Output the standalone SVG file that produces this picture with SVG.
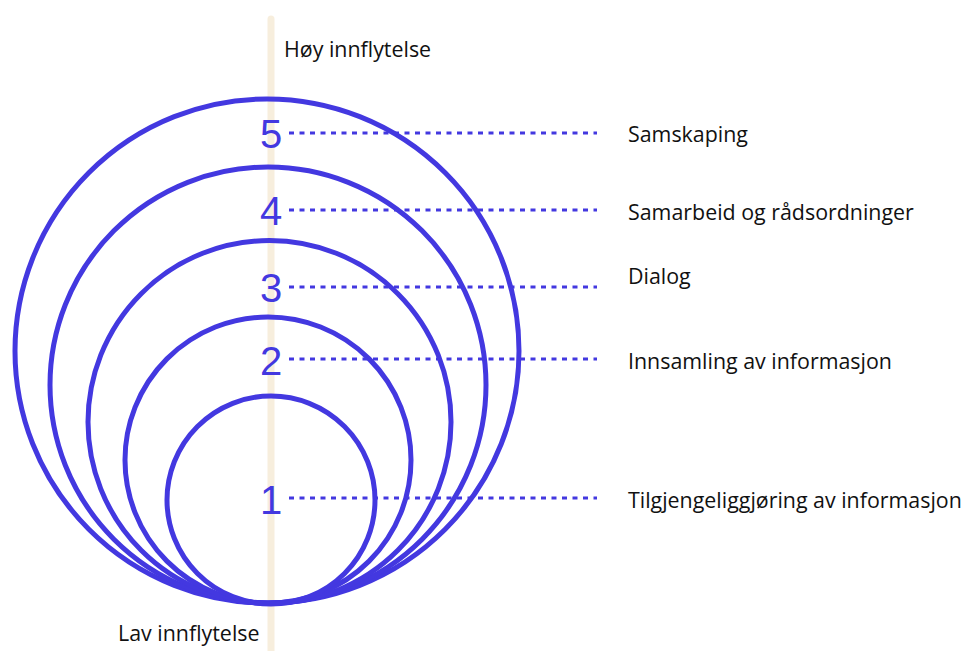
<svg xmlns="http://www.w3.org/2000/svg" width="962" height="651" viewBox="0 0 962 651">
<style>
.ring{fill:none;stroke:#4338E0;stroke-width:5}
.dash{stroke:#4338E0;stroke-width:3;stroke-dasharray:5 5.5;fill:none}
.num{font-family:"Liberation Sans",Arial,sans-serif;font-size:40px;fill:#4338E0;text-anchor:middle}
.lbl{font-family:"Open Sans","Noto Sans",sans-serif;font-size:21.4px;fill:#111}
</style>
<rect width="962" height="651" fill="#fff"/>
<line id="axis" x1="271" y1="19" x2="271" y2="660" stroke="#F7EEDD" stroke-width="7" stroke-linecap="round"/>
<text class="lbl" x="284" y="57">Høy innflytelse</text>
<text class="lbl" x="118" y="641">Lav innflytelse</text>
<g id="circles">
<circle id="c5" class="ring" cx="267" cy="351" r="252"/>
<circle id="c4" class="ring" cx="268" cy="385" r="218"/>
<circle id="c3" class="ring" cx="269.5" cy="422" r="181.5"/>
<circle id="c2" class="ring" cx="268" cy="460" r="143"/>
<circle id="c1" class="ring" cx="271" cy="500" r="104"/>
</g>
<g id="connectors">
<line class="dash" x1="289" y1="133" x2="597" y2="133"/>
<line class="dash" x1="289" y1="210" x2="597" y2="210"/>
<line class="dash" x1="289" y1="287" x2="597" y2="287"/>
<line class="dash" x1="289" y1="359" x2="597" y2="359"/>
<line class="dash" x1="289" y1="498" x2="597" y2="498"/>
</g>
<g id="level5"><text class="num" x="271" y="148">5</text><text class="lbl" x="628" y="142">Samskaping</text></g>
<g id="level4"><text class="num" x="271" y="225">4</text><text class="lbl" x="628" y="220">Samarbeid og rådsordninger</text></g>
<g id="level3"><text class="num" x="271" y="302">3</text><text class="lbl" x="628" y="284">Dialog</text></g>
<g id="level2"><text class="num" x="271" y="375">2</text><text class="lbl" x="628" y="369">Innsamling av informasjon</text></g>
<g id="level1"><text class="num" x="271" y="514">1</text><text class="lbl" x="628" y="508">Tilgjengeliggjøring av informasjon</text></g>
</svg>
